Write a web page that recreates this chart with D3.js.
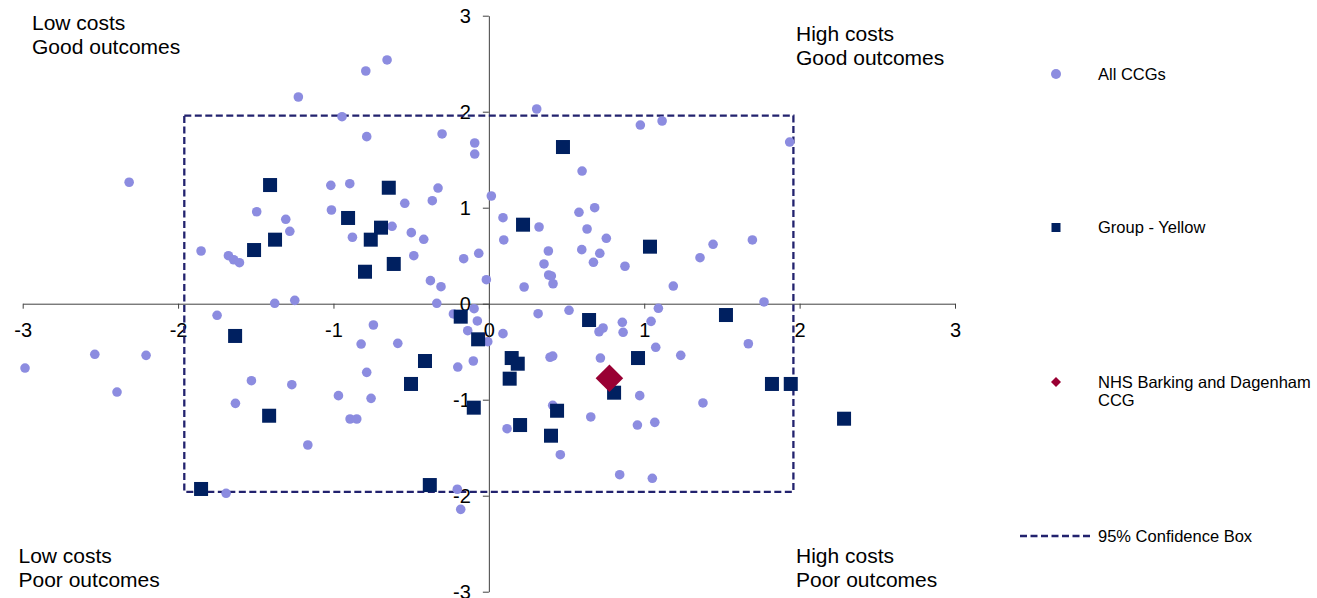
<!DOCTYPE html>
<html>
<head>
<meta charset="utf-8">
<script src="https://cdn.jsdelivr.net/npm/d3@7"></script>
<style>
  body { margin: 0; background: #fff; }
  svg { display: block; font-family: "Liberation Sans", Arial, sans-serif; }
  .axis path, .axis line { stroke: #404040; }
  .axis text { fill: #000; font-size: 20px; }
</style>
</head>
<body>
<svg id="chart" width="1317" height="598"></svg>
<script>
// standardised cost (x) vs outcome (y)
var allX = [-2.315,-1.226,-0.792,-0.655,-0.945,-0.786,-0.301,-0.091,-0.091,-1.017,-0.895,-0.327,-0.364,-0.541,0.016,-1.494,-1.013,-1.307,-1.281,-0.878,-0.623,-0.499,-0.419,-0.483,-1.852,-1.676,-1.642,-1.605,-0.162,-0.065,-0.016,-0.376,-0.308,-1.378,-1.249,-0.335,
  0.308,0.975,1.115,1.936,0.6,0.091,0.096,0.323,0.58,0.681,0.632,0.756,0.383,0.598,0.714,0.355,0.673,0.876,0.385,0.402,0.413,0.227,1.187,1.359,1.443,1.696,1.771,
  -1.749,-2.536,-2.206,-2.985,-2.393,-1.528,-1.268,-1.631,-1.165,-0.968,-0.893,-0.85,-0.758,-0.786,-0.822,-0.743,-0.586,-0.2,-0.1,-0.228,-0.095,-0.074,-0.136,-0.007,-1.691,-0.203,-0.181,
  0.317,0.516,0.091,0.709,0.735,0.859,0.864,1.044,1.091,1.074,1.235,1.67,0.394,0.411,0.718,0.971,1.378,0.411,0.656,0.117,0.956,1.068,0.46,0.842,1.052];
var allY = [1.265,2.153,2.424,2.539,1.948,1.74,1.768,1.674,1.559,1.233,1.25,1.205,1.073,1.046,1.122,0.958,0.976,0.879,0.754,0.692,0.806,0.74,0.671,0.5,0.549,0.5,0.458,0.427,0.469,0.525,0.25,0.24,0.177,0.004,0.035,0.004,
  2.028,1.861,1.903,1.684,1.382,0.896,0.664,0.799,0.952,1.0,0.778,0.681,0.549,0.563,0.525,0.414,0.431,0.39,0.299,0.289,0.208,0.174,0.184,0.479,0.619,0.664,0.018,
  -0.121,-0.527,-0.538,-0.67,-0.92,-0.802,-0.844,-1.038,-1.472,-0.958,-1.201,-1.201,-0.986,-0.715,-0.42,-0.222,-0.413,-0.66,-0.597,-0.107,-0.052,-0.18,-0.281,-0.396,-1.975,-1.933,-2.142,
  -0.104,-0.069,-0.312,-0.292,-0.253,-0.194,-0.298,-0.184,-0.048,-0.454,-0.538,-0.417,-0.558,-0.545,-0.566,-0.958,-1.034,-1.059,-1.18,-1.302,-1.264,-1.236,-1.573,-1.781,-1.819];

var groupX = [-1.408,-0.644,-0.906,-0.694,-0.76,-1.376,-1.511,-0.612,-0.797,0.477,0.22,1.037,-1.633,-1.414,-1.852,-0.411,-0.501,-0.38,-0.181,-0.069,-0.097,0.645,1.526,0.147,0.186,0.96,0.134,0.806,1.822,1.943,0.439,0.201,0.4,2.286];
var groupY = [1.236,1.208,0.893,0.792,0.667,0.667,0.559,0.414,0.333,1.632,0.823,0.594,-0.336,-1.167,-1.93,-0.597,-0.836,-1.889,-0.135,-0.371,-1.083,-0.17,-0.118,-0.566,-0.625,-0.566,-0.781,-0.927,-0.836,-0.836,-1.115,-1.264,-1.375,-1.198];

var ccgX = [0.776];
var ccgY = [-0.777];

var boxLimit = [-1.96, 1.96];
var tickVals = [-3, -2, -1, 0, 1, 2, 3];

var seriesNames = ["All CCGs", "Group - Yellow", "NHS Barking and Dagenham CCG", "95% Confidence Box"];
var quadrantLabels = [["Low costs", "Good outcomes"], ["High costs", "Good outcomes"], ["Low costs", "Poor outcomes"], ["High costs", "Poor outcomes"]];

var colAll = "#8c8ce0", colGroup = "#002060", colCcg = "#990033", colBox = "#22226e";

var svg = d3.select("#chart");

var x = d3.scaleLinear().domain([-3, 3]).range([22.7, 955]);
var y = d3.scaleLinear().domain([-3, 3]).range([591.7, 15.7]);

// axes cross at zero
svg.append("g")
    .attr("class", "axis")
    .attr("transform", "translate(0," + y(0) + ")")
    .call(d3.axisBottom(x).tickValues(tickVals).tickFormat(d3.format("d")).tickSize(5).tickSizeOuter(0).tickPadding(14));

svg.append("g")
    .attr("class", "axis")
    .attr("transform", "translate(" + x(0) + ",0)")
    .call(d3.axisLeft(y).tickValues(tickVals).tickFormat(d3.format("d")).tickSize(6).tickSizeOuter(0).tickPadding(12));

svg.selectAll(".axis text").text(function (d) { return d < 0 ? "-" + Math.abs(d) : d; });

// confidence box
svg.append("rect")
    .attr("x", x(boxLimit[0]))
    .attr("y", y(boxLimit[1]))
    .attr("width", x(boxLimit[1]) - x(boxLimit[0]))
    .attr("height", y(boxLimit[0]) - y(boxLimit[1]))
    .attr("fill", "none")
    .attr("stroke", colBox)
    .attr("stroke-width", 2.3)
    .attr("stroke-dasharray", "7,3.5");

svg.append("g").selectAll("circle")
    .data(d3.range(allX.length))
    .enter().append("circle")
    .attr("cx", function (i) { return x(allX[i]); })
    .attr("cy", function (i) { return y(allY[i]); })
    .attr("r", 4.8)
    .attr("fill", colAll);

var sq = 14;
svg.append("g").selectAll("rect")
    .data(d3.range(groupX.length))
    .enter().append("rect")
    .attr("x", function (i) { return x(groupX[i]) - sq / 2; })
    .attr("y", function (i) { return y(groupY[i]) - sq / 2; })
    .attr("width", sq)
    .attr("height", sq)
    .attr("fill", colGroup);

var diamond = d3.symbol().type(d3.symbolSquare).size(380);
svg.append("g").selectAll("path")
    .data(d3.range(ccgX.length))
    .enter().append("path")
    .attr("d", diamond)
    .attr("transform", function (i) { return "translate(" + x(ccgX[i]) + "," + y(ccgY[i]) + ") rotate(45)"; })
    .attr("fill", colCcg);

// quadrant labels
var quadPos = [[32, 29.5], [796, 40.7], [18.5, 562.7], [796, 562.7]];
quadrantLabels.forEach(function (lines, k) {
    var t = svg.append("text")
        .attr("x", quadPos[k][0])
        .attr("y", quadPos[k][1])
        .attr("font-size", "21px")
        .attr("fill", "#000");
    lines.forEach(function (s, j) {
        t.append("tspan").attr("x", quadPos[k][0]).attr("dy", j === 0 ? 0 : 24).text(s);
    });
});

// legend
var legend = svg.append("g").attr("font-size", "16.5px").attr("fill", "#000");
var lx = 1056, tx = 1098;
var legY = [74, 227.5, 382, 536];

legend.append("circle").attr("cx", lx).attr("cy", legY[0]).attr("r", 5).attr("fill", colAll);
legend.append("rect").attr("x", lx - 4.5).attr("y", legY[1] - 4.5).attr("width", 9).attr("height", 9).attr("fill", colGroup);
legend.append("path").attr("d", d3.symbol().type(d3.symbolSquare).size(50))
    .attr("transform", "translate(" + lx + "," + legY[2] + ") rotate(45)").attr("fill", colCcg);
legend.append("line").attr("x1", 1020).attr("x2", 1091).attr("y1", legY[3]).attr("y2", legY[3])
    .attr("stroke", colBox).attr("stroke-width", 2.3).attr("stroke-dasharray", "7,3.5");

legend.append("text").attr("x", tx).attr("y", legY[0] + 5.8).text(seriesNames[0]);
legend.append("text").attr("x", tx).attr("y", legY[1] + 5.8).text(seriesNames[1]);
var t3 = legend.append("text").attr("x", tx).attr("y", legY[2] + 5.8);
t3.append("tspan").attr("x", tx).text("NHS Barking and Dagenham");
t3.append("tspan").attr("x", tx).attr("dy", 18).text("CCG");
legend.append("text").attr("x", tx).attr("y", legY[3] + 5.8).text(seriesNames[3]);
</script>
</body>
</html>
